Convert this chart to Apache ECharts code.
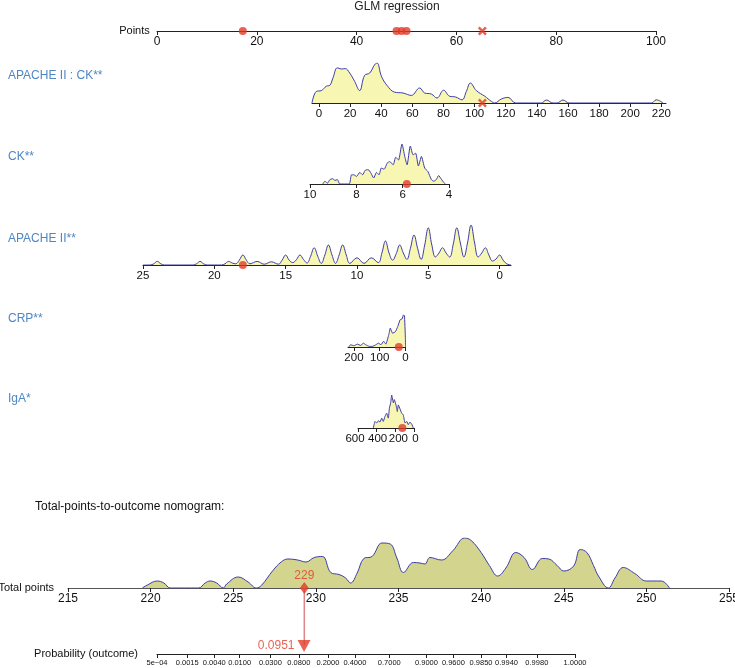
<!DOCTYPE html>
<html>
<head>
<meta charset="utf-8">
<script src="https://cdn.jsdelivr.net/npm/echarts@6/dist/echarts.min.js"></script>
<style>
html,body{margin:0;padding:0;background:#fff}
#chart{width:735px;height:668px}
</style>
</head>
<body>
<div id="chart"></div>
<script>
// points scale
var pointTicks=[0,20,40,60,80,100];
var pointDots=[17.2,48.0,49.0,50.0];
var pointCross=[65.2];

// APACHE II : CK interaction
var apckTicks=[0,20,40,60,80,100,120,140,160,180,200,220];
var apckDensity=[[-4.5,0],[-1.7,0.29],[1.5,0.31],[4.7,0.42],[6.9,0.44],[9,0.63],[11.8,0.88],[14.4,0.85],[16.9,0.86],[19.7,0.75],[22.9,0.54],[26.1,0.31],[29.3,0.69],[32.6,0.75],[35.8,0.96],[37.3,1.0],[40.1,0.67],[43.7,0.44],[48.6,0.27],[54,0.25],[59.3,0.19],[64.7,0.375],[67.9,0.25],[72.2,0.225],[75.8,0.125],[80.1,0.32],[83.9,0.17],[87.8,0.15],[91.9,0.08],[94.7,0.29],[97.3,0.5],[101.1,0.31],[106.5,0.17],[110.8,0.04],[112.9,0],[117.2,0.1],[121.5,0.14],[126.4,0],[142.9,0],[146.1,0.075],[150.4,0],[153,0],[156.8,0.075],[160.7,0],[213.6,0],[216.8,0.08],[221.1,0]];
var apckCross=[105];

// CK
var ckTicks=[10,8,6,4];
var ckDensity=[[9.45,0],[9.35,0.07],[9.25,0.02],[9.14,0.11],[9.02,0.13],[8.92,0.09],[8.82,0.11],[8.71,0],[8.31,0],[8.21,0.23],[8.11,0.23],[7.99,0.19],[7.85,0.29],[7.73,0.23],[7.62,0.34],[7.49,0.36],[7.37,0.27],[7.25,0.15],[7.13,0.29],[7.02,0.23],[6.92,0.40],[6.8,0.37],[6.67,0.52],[6.56,0.56],[6.41,0.48],[6.3,0.67],[6.18,0.60],[6.03,1.0],[5.91,0.69],[5.81,0.48],[5.67,0.95],[5.55,0.73],[5.44,0.77],[5.32,0.45],[5.19,0.69],[5.05,0.40],[4.91,0.31],[4.76,0.11],[4.66,0.07],[4.55,0.11],[4.45,0.21],[4.33,0.12],[4.23,0.04],[4.15,0]];
var ckDot=[5.82];

// APACHE II
var apTicks=[25,20,15,10,5,0];
var apDensity=[[25,0],[24.5,0],[24.25,0.03],[24,0.09],[23.75,0.03],[23.5,0],[21.5,0],[21.25,0.03],[21,0.09],[20.75,0.03],[20.5,0],[19.5,0],[19.25,0.03],[19,0.09],[18.75,0.05],[18.5,0.03],[18.25,0.12],[18,0.25],[17.75,0.12],[17.5,0.03],[17,0.09],[16.5,0.02],[16,0.08],[15.5,0.02],[15.25,0.12],[15,0.25],[14.75,0.12],[14.5,0.06],[14.25,0.13],[14,0.25],[13.75,0.14],[13.5,0.05],[13.25,0.22],[13,0.43],[12.75,0.22],[12.5,0.04],[12.25,0.25],[12,0.5],[11.75,0.25],[11.5,0.04],[11.25,0.25],[11,0.5],[10.75,0.25],[10.5,0.04],[10,0.18],[9.5,0.04],[9,0.18],[8.5,0.06],[8.25,0.3],[8,0.6],[7.75,0.3],[7.5,0.12],[7.25,0.28],[7,0.5],[6.75,0.3],[6.5,0.14],[6.25,0.42],[6,0.75],[5.75,0.42],[5.5,0.14],[5.25,0.5],[5,0.93],[4.75,0.5],[4.5,0.2],[4.25,0.3],[4,0.43],[3.75,0.3],[3.5,0.2],[3.25,0.52],[3,0.93],[2.75,0.55],[2.5,0.2],[2.25,0.55],[2,1.0],[1.75,0.55],[1.5,0.2],[1.25,0.3],[1,0.43],[0.75,0.25],[0.5,0.1],[0.25,0.15],[0,0.25],[-0.25,0.12],[-0.5,0.03],[-0.8,0]];
var apDot=[18];

// CRP
var crpTicks=[200,100,0];
var crpDensity=[[220,0],[213,0.07],[200,0.04],[187,0.09],[174,0.05],[163,0.12],[154,0.07],[141,0.02],[128,0.02],[115,0.07],[105,0.12],[95,0.07],[85,0.18],[76,0.09],[65,0.38],[59,0.59],[50,0.43],[39,0.48],[30,0.64],[21,0.85],[13,0.88],[8,1.0],[4,0.98],[0.5,0.3],[0,0]];
var crpDot=[26];

// IgA
var igaTicks=[600,400,200,0];
var igaDensity=[[436,0],[418,0.2],[400,0.15],[382,0.22],[364,0.18],[346,0.3],[329,0.2],[311,0.35],[293,0.45],[275,0.3],[264,0.6],[250,0.76],[239,1.0],[221,0.76],[211,0.86],[193,0.7],[179,0.5],[168,0.7],[150,0.58],[132,0.45],[115,0.4],[96,0.15],[78,0.2],[61,0.1],[43,0.18],[25,0.12],[7,0]];
var igaDot=[125];

// total points and probability
var totalTicks=[215,220,225,230,235,240,245,250,255];
var totalDensity=[[219.5,0],[219.8,0.06],[220.4,0.14],[220.8,0.1],[221.2,0],[222.9,0],[223.3,0.1],[223.6,0.14],[224.0,0.1],[224.4,0],[224.6,0.08],[225.3,0.22],[225.9,0.12],[226.4,0],[226.7,0.05],[227.4,0.35],[227.9,0.52],[228.3,0.58],[228.9,0.56],[229.4,0.52],[229.9,0.61],[230.4,0.63],[230.9,0.31],[231.4,0.27],[231.8,0.2],[232.1,0.1],[232.5,0.3],[232.9,0.59],[233.4,0.63],[234.0,0.9],[234.5,0.88],[234.9,0.6],[235.3,0.31],[235.9,0.51],[236.3,0.5],[236.6,0.48],[236.9,0.61],[237.6,0.56],[238.3,0.75],[239.0,1.0],[239.4,0.95],[240.0,0.71],[240.5,0.45],[241.0,0.24],[241.5,0.4],[242.1,0.71],[242.6,0.61],[243.1,0.37],[243.7,0.59],[244.1,0.58],[244.6,0.45],[245.0,0.34],[245.6,0.44],[246.0,0.77],[246.4,0.71],[246.8,0.45],[247.1,0.24],[247.7,0],[248.1,0.2],[248.6,0.41],[249.3,0.29],[250.0,0.14],[250.9,0.14],[251.4,0]];
var totalScore=229.3;
var probTicks=[0.0005,0.0015,0.004,0.01,0.03,0.08,0.2,0.4,0.7,0.9,0.96,0.985,0.994,0.998,0.9995];
var probLabels=['5e\u221204','0.0015','0.0040','0.0100','0.0300','0.0800','0.2000','0.4000','0.7000','0.9000','0.9600','0.9850','0.9940','0.9980','1.0000'];
var probValue=0.0951;

var FONT='"Liberation Sans", Arial, sans-serif';
var RED='#e23b28';
var LINE='#3d3da6';
var FILL='#f7f7b3';
var BLUE='#4f86c4';

function logit(p){return Math.log(p/(1-p));}

var chart=echarts.init(document.getElementById('chart'));

// grids: left, width, top, height (axis line sits at top+height)
var grids=[
  {left:157,width:499,top:21,height:10},   // points
  {left:312,width:354,top:63,height:40},   // APACHE II : CK
  {left:310,width:139,top:144,height:40},  // CK
  {left:143,width:368,top:225,height:40},  // APACHE II
  {left:348,width:57.5,top:315,height:32}, // CRP
  {left:358,width:56,top:395,height:33},   // IgA
  {left:68,width:661,top:538,height:50},   // total points
  {left:157,width:418,top:636,height:18},  // probability
  {left:68,width:661,top:588,height:57}    // connector
].map(function(g){g.outerBoundsMode='none';g.containLabel=false;return g;});

function axis(i,min,max,inverse,ticks,opt){
  opt=opt||{};
  return {
    gridIndex:i,type:'value',min:min,max:max,inverse:inverse,
    name:opt.name||'',nameLocation:'start',nameGap:opt.nameGap||6,
    nameTextStyle:{color:'#111',fontSize:11,fontFamily:FONT},
    axisLine:{show:true,onZero:false,lineStyle:{color:opt.lineColor||'#222',width:1}},
    axisTick:{show:true,length:4,customValues:ticks,lineStyle:{color:'#222',width:1}},
    axisLabel:{customValues:ticks,color:'#111',fontSize:opt.fontSize||11.5,fontFamily:FONT,margin:opt.margin||5,
      hideOverlap:false,formatter:opt.formatter,rich:opt.rich},
    splitLine:{show:false}
  };
}

// IgA labels are nudged apart in the reference
var igaRich={a:{padding:[0,6,0,0]},b:{padding:[0,0,0,2]},c:{padding:[0,0,0,6]},d:{padding:[0,0,0,3]}};
var igaTag={600:'a',400:'b',200:'c',0:'d'};

var xAxes=[
  axis(0,0,100,false,pointTicks,{name:'Points',fontSize:12}),
  axis(1,-4.5,223,false,apckTicks),
  axis(2,4,10,true,ckTicks),
  axis(3,-0.8,25,true,apTicks),
  axis(4,0,223,true,crpTicks),
  axis(5,0,600,true,igaTicks,{rich:igaRich,formatter:function(v){return '{'+igaTag[v]+'|'+v+'}';}}),
  axis(6,215,255,false,totalTicks,{name:'Total points',fontSize:12,nameGap:7,lineColor:'#555'}),
  axis(7,logit(0.0005),logit(0.9995),false,probTicks.map(logit),{name:'Probability (outcome)',nameGap:19,fontSize:7.5,margin:5,
    formatter:function(v){
      var best=0,d=1e9;
      probTicks.forEach(function(p,k){var dd=Math.abs(logit(p)-v);if(dd<d){d=dd;best=k;}});
      return probLabels[best];
    }}),
  {gridIndex:8,type:'value',min:215,max:255,show:false}
];

var yAxes=grids.map(function(g,i){return {gridIndex:i,type:'value',min:0,max:1,show:false};});

function density(i,data,smooth,fill){
  return {type:'line',xAxisIndex:i,yAxisIndex:i,data:data,symbol:'none',smooth:smooth,
    lineStyle:{color:LINE,width:1},areaStyle:{color:fill||FILL,opacity:1},z:2,silent:true};
}
var crossPath='path://M2,0L5,3L8,0L10,2L7,5L10,8L8,10L5,7L2,10L0,8L3,5L0,2Z';
function marks(i,vals,symbol,size){
  return {type:'scatter',xAxisIndex:i,yAxisIndex:i,clip:false,z:5,
    symbol:symbol||'circle',symbolSize:size||8,itemStyle:{color:RED},
    data:vals.map(function(v){return [v,0];})};
}

var series=[
  marks(0,pointDots),
  marks(0,pointCross,crossPath,9),
  density(1,apckDensity,0.4),
  marks(1,apckCross,crossPath,9),
  density(2,ckDensity,0.2),
  marks(2,ckDot),
  density(3,apDensity,0.4),
  marks(3,apDot),
  density(4,crpDensity,0.1),
  marks(4,crpDot),
  density(5,igaDensity,0.1),
  marks(5,igaDot),
  density(6,totalDensity,0.4,'#d3d58e'),
  // connector between total points and probability
  {type:'line',xAxisIndex:8,yAxisIndex:8,data:[[totalScore,1],[totalScore,0]],symbol:'none',
    lineStyle:{color:'#e08585',width:1.5},z:3,silent:true},
  {type:'scatter',xAxisIndex:6,yAxisIndex:6,clip:false,z:6,symbol:'diamond',symbolSize:[9,12],
    itemStyle:{color:RED},data:[[totalScore,0]],
    label:{show:true,position:'top',distance:0,color:RED,fontSize:12,fontFamily:FONT,formatter:function(){return Math.round(totalScore)+'';}}},
  {type:'scatter',xAxisIndex:7,yAxisIndex:7,clip:false,z:6,symbol:'triangle',symbolRotate:180,symbolSize:[13,12],
    itemStyle:{color:RED},data:[[logit(probValue),0.45]],
    label:{show:true,position:'left',distance:3,color:RED,fontSize:12,fontFamily:FONT,formatter:function(){return probValue.toFixed(4);}}}
];

function txt(x,y,s,color,align){
  return {type:'text',x:x,y:y,style:{text:s,fill:color,font:'12px '+FONT,align:align||'left',verticalAlign:'middle'}};
}

chart.setOption({
  animation:false,
  backgroundColor:'#fff',
  grid:grids,
  xAxis:xAxes,
  yAxis:yAxes,
  series:series,
  graphic:[
    txt(397,7,'GLM regression','#222','center'),
    txt(8,76,'APACHE II : CK**',BLUE),
    txt(8,157,'CK**',BLUE),
    txt(8,239,'APACHE II**',BLUE),
    txt(8,319,'CRP**',BLUE),
    txt(8,399,'IgA*',BLUE),
    txt(35,507,'Total-points-to-outcome nomogram:','#111')
  ]
});
</script>
</body>
</html>
